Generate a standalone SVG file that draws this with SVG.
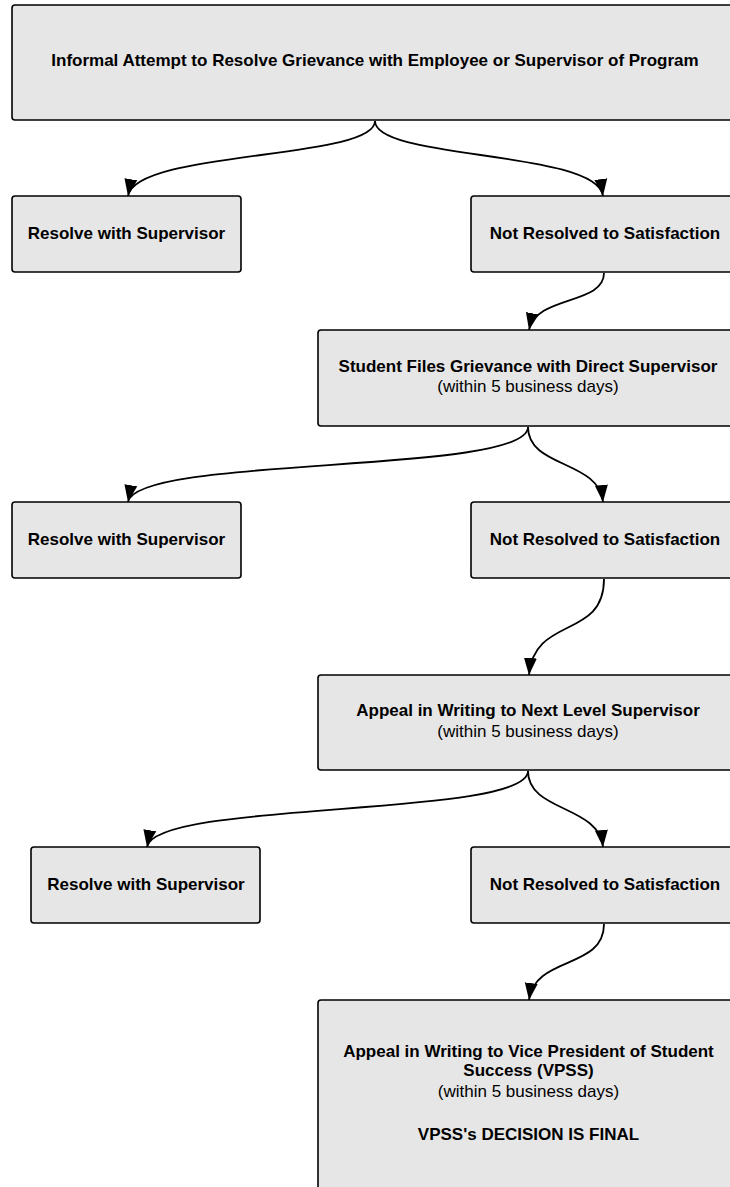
<svg xmlns="http://www.w3.org/2000/svg" width="730" height="1187" viewBox="0 0 730 1187">
<style>
.box{fill:#e6e6e6;stroke:#000;stroke-width:1.6}
.b{font-family:"Liberation Sans",Arial,sans-serif;font-size:17px;font-weight:bold;fill:#000;text-anchor:middle}
.r{font-family:"Liberation Sans",Arial,sans-serif;font-size:17px;fill:#000;text-anchor:middle}
.c{fill:none;stroke:#000;stroke-width:1.8}
</style>
<defs>
<marker id="ah" markerUnits="userSpaceOnUse" markerWidth="18" markerHeight="14" refX="17" refY="6.5" orient="auto" viewBox="0 0 18 13">
<path d="M0,0 L17,6.5 L0,13 z" fill="#000"/>
</marker>
</defs>
<g id="connectors">
<path class="c" marker-end="url(#ah)" d="M375,121 C375,160 136,150 128,196"/>
<path class="c" marker-end="url(#ah)" d="M375,121 C375,160 597,150 603,196"/>
<path class="c" marker-end="url(#ah)" d="M604,273 C604,305 536,295 529,330"/>
<path class="c" marker-end="url(#ah)" d="M528,427 C528,475 136,455 128,502"/>
<path class="c" marker-end="url(#ah)" d="M528,427 C528,468 599,460 603,502"/>
<path class="c" marker-end="url(#ah)" d="M604,579 C604,640 534,615 529,675"/>
<path class="c" marker-end="url(#ah)" d="M528,771 C528,818 155,800 147,847"/>
<path class="c" marker-end="url(#ah)" d="M528,771 C528,812 599,805 603,847"/>
<path class="c" marker-end="url(#ah)" d="M604,924 C604,970 535,955 529,1000"/>
</g>
<g id="n1">
<rect class="box" x="12" y="5" width="726" height="115" rx="3"/>
<text class="b" x="375" y="66">Informal Attempt to Resolve Grievance with Employee or Supervisor of Program</text>
</g>
<g id="n2">
<rect class="box" x="12" y="196" width="229" height="76" rx="3"/>
<text class="b" x="126.5" y="239">Resolve with Supervisor</text>
</g>
<g id="n3">
<rect class="box" x="471" y="196" width="266" height="76" rx="3"/>
<text class="b" x="605" y="239">Not Resolved to Satisfaction</text>
</g>
<g id="n4">
<rect class="box" x="318" y="330" width="420" height="96" rx="3"/>
<text class="b" x="528" y="372">Student Files Grievance with Direct Supervisor</text>
<text class="r" x="528" y="392">(within 5 business days)</text>
</g>
<g id="n5">
<rect class="box" x="12" y="502" width="229" height="76" rx="3"/>
<text class="b" x="126.5" y="545">Resolve with Supervisor</text>
</g>
<g id="n6">
<rect class="box" x="471" y="502" width="266" height="76" rx="3"/>
<text class="b" x="605" y="545">Not Resolved to Satisfaction</text>
</g>
<g id="n7">
<rect class="box" x="318" y="675" width="420" height="95" rx="3"/>
<text class="b" x="528" y="716">Appeal in Writing to Next Level Supervisor</text>
<text class="r" x="528" y="737">(within 5 business days)</text>
</g>
<g id="n8">
<rect class="box" x="31" y="847" width="229" height="76" rx="3"/>
<text class="b" x="146" y="890">Resolve with Supervisor</text>
</g>
<g id="n9">
<rect class="box" x="471" y="847" width="266" height="76" rx="3"/>
<text class="b" x="605" y="890">Not Resolved to Satisfaction</text>
</g>
<g id="n10">
<rect class="box" x="318" y="1000" width="420" height="200" rx="3"/>
<text class="b" x="528.5" y="1057">Appeal in Writing to Vice President of Student</text>
<text class="b" x="528.5" y="1076">Success (VPSS)</text>
<text class="r" x="528.5" y="1097">(within 5 business days)</text>
<text class="b" x="528.5" y="1140">VPSS's DECISION IS FINAL</text>
</g>
</svg>
